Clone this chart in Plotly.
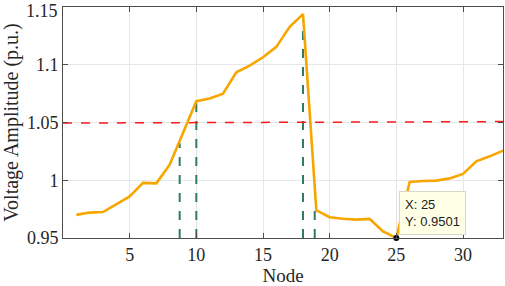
import plotly.graph_objects as go

nodes = list(range(1, 34))
voltage = [0.970, 0.972, 0.9725, 0.979, 0.986, 0.9977, 0.9973, 1.0135, 1.041, 1.0684,
           1.0707, 1.075, 1.0935, 1.0993, 1.1065, 1.1155, 1.1328, 1.1438, 0.974, 0.968,
           0.9667, 0.9659, 0.9665, 0.9557, 0.9501, 0.9985, 0.9994, 0.9997, 1.0016, 1.0055,
           1.0164, 1.0207, 1.0257]
limit_x = [0, 33]
limit_y = [1.0495, 1.0508]
marker_x = [8.75, 10, 18, 18.88]
marker_y = [1.0323, 1.0684, 1.1438, 0.9755]
tip_x = 25
tip_y = 0.9501
x_ticks = [5, 10, 15, 20, 25, 30]
y_ticks = [0.95, 1.0, 1.05, 1.1, 1.15]
y_tick_text = ["0.95", "1", "1.05", "1.1", "1.15"]

serif = "Liberation Serif, Times New Roman"
fig = go.Figure()
for mx, my in zip(marker_x, marker_y):
    fig.add_trace(go.Scatter(x=[mx, mx], y=[0.95, my], mode="lines",
                             line=dict(color="#2E7D5E", width=2, dash="dash"),
                             showlegend=False, hoverinfo="skip"))
fig.add_trace(go.Scatter(x=limit_x, y=limit_y, mode="lines",
                         line=dict(color="#FF1A1A", width=1.5, dash="dash"),
                         showlegend=False))
fig.add_trace(go.Scatter(x=nodes, y=voltage, mode="lines",
                         line=dict(color="#F7A600", width=2.6),
                         showlegend=False))
fig.add_trace(go.Scatter(x=[tip_x], y=[tip_y], mode="markers",
                         marker=dict(color="black", size=6),
                         showlegend=False, cliponaxis=False))
fig.add_annotation(x=tip_x, y=tip_y, xref="x", yref="y",
                   text="X: 25<br>Y: 0.9501", showarrow=False,
                   xanchor="left", yanchor="bottom", xshift=3, yshift=3,
                   align="left", bgcolor="#FFFFE6", bordercolor="#D8D8C8",
                   borderwidth=1, borderpad=5,
                   font=dict(family="Liberation Sans, Arial", size=13, color="#222"))
# top tick label (plotly drops labels that overflow the page edge)
fig.add_annotation(x=0, y=y_ticks[-1], xref="paper", yref="y", text=y_tick_text[-1],
                   showarrow=False, xanchor="right", yanchor="top", xshift=-3, yshift=8,
                   font=dict(family=serif, size=18, color="#262626"))

axis_common = dict(showline=True, linecolor="#4D4D4D", linewidth=1, mirror="ticks",
                   ticks="inside", ticklen=5, tickcolor="#4D4D4D", automargin=False,
                   showgrid=True, gridcolor="#E6E6E6", gridwidth=1, zeroline=False,
                   tickfont=dict(family=serif, size=18, color="#262626"))
fig.update_xaxes(range=[0, 33], tickvals=x_ticks, title=dict(text="Node", standoff=2,
                 font=dict(family=serif, size=19, color="#262626")),
                 **axis_common)
fig.update_yaxes(range=[0.95, 1.15], tickvals=y_ticks, ticktext=y_tick_text,
                 title=dict(text="Voltage Amplitude (p.u.)", standoff=4,
                 font=dict(family=serif, size=20, color="#262626")),
                 **axis_common)
fig.update_layout(width=505, height=286, margin=dict(l=63, r=2, t=7, b=48),
                  plot_bgcolor="white", paper_bgcolor="white")
fig.write_html("out.html", config={"displayModeBar": False},
               post_script="document.body.style.margin='0px';")
